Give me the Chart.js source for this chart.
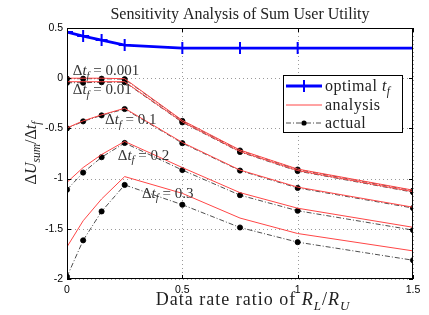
<!DOCTYPE html>
<html>
<head>
<meta charset="utf-8">
<script src="https://cdn.jsdelivr.net/npm/chart.js@4/dist/chart.umd.min.js"></script>
<style>
  html, body { margin: 0; padding: 0; background: #fff; }
  #wrap { width: 429px; height: 315px; }
</style>
</head>
<body>
<div id="wrap"><canvas id="chart" width="429" height="315"></canvas></div>
<script>
// data rate ratio R_L/R_U
const xRatio = [0, 0.07, 0.15, 0.25, 0.5, 0.75, 1, 1.5];
const xTicks = [0, 0.5, 1, 1.5];
const yTicks = [-2, -1.5, -1, -0.5, 0, 0.5];

const optimalTf = [0.46, 0.42, 0.38, 0.33, 0.30, 0.30, 0.30, 0.30];

// delta t_f = 0.001
const analysis001 = [0.0, 0.0, 0.0, -0.005, -0.42, -0.715, -0.905, -1.115];
const actual001 = [-0.005, -0.005, -0.005, -0.01, -0.425, -0.72, -0.91, -1.12];
// delta t_f = 0.01
const analysis01 = [-0.035, -0.035, -0.035, -0.035, -0.435, -0.73, -0.92, -1.13];
const actual01 = [-0.045, -0.045, -0.04, -0.04, -0.44, -0.735, -0.925, -1.135];
// delta t_f = 0.1
const analysis1 = [-0.495, -0.425, -0.365, -0.3, -0.64, -0.915, -1.085, -1.285];
const actual1 = [-0.5, -0.43, -0.37, -0.307, -0.647, -0.92, -1.093, -1.293];
// delta t_f = 0.2
const analysis2 = [-1.037, -0.89, -0.76, -0.63, -0.89, -1.14, -1.295, -1.485];
const actual2 = [-1.11, -0.94, -0.787, -0.645, -0.915, -1.165, -1.32, -1.513];
// delta t_f = 0.3
const analysis3 = [-1.68, -1.42, -1.203, -0.98, -1.147, -1.393, -1.547, -1.72];
const actual3 = [-1.977, -1.615, -1.327, -1.063, -1.26, -1.487, -1.633, -1.813];

const curveLabels = ['0.001', '0.01', '0.1', '0.2', '0.3'];
const labelAnchorX = [0.025, 0.025, 0.165, 0.22, 0.325];
const labelAnchorY = [0.03, -0.16, -0.46, -0.81, -1.19];

const RED = 'rgb(255,70,70)';
const BLUE = 'rgb(0,0,255)';
const SERIF = '"Liberation Serif", "DejaVu Serif", serif';
const SANS = '"Liberation Sans", Arial, sans-serif';

function pts(ys) {
    return xRatio.map((x, i) => ({ x: x, y: ys[i] }));
}

const analysisSets = [analysis001, analysis01, analysis1, analysis2, analysis3];
const actualSets = [actual001, actual01, actual1, actual2, actual3];

const datasets = [];
analysisSets.forEach(ys => {
    datasets.push({
        label: 'analysis',
        data: pts(ys),
        borderColor: RED,
        borderWidth: 1,
        pointRadius: 0,
        tension: 0
    });
});
actualSets.forEach(ys => {
    datasets.push({
        label: 'actual',
        data: pts(ys),
        borderColor: '#222',
        borderWidth: 0.8,
        borderDash: [5, 2, 1, 2],
        pointRadius: 2.6,
        pointBackgroundColor: '#000',
        pointBorderColor: '#000',
        tension: 0
    });
});
datasets.push({
    label: 'optimal',
    data: pts(optimalTf),
    borderColor: BLUE,
    borderWidth: 2.8,
    pointStyle: 'cross',
    pointRadius: 6,
    pointBorderWidth: 2,
    pointBorderColor: BLUE,
    tension: 0
});

// draws a run of text parts: {t, it, sub}
function richText(ctx, parts, x, y, size) {
    let cx = x;
    parts.forEach(p => {
        const s = p.sub ? size * 0.72 : size;
        ctx.font = (p.it ? 'italic ' : '') + s + 'px ' + SERIF;
        ctx.fillText(p.t, cx, p.sub ? y + size * 0.25 : y);
        cx += ctx.measureText(p.t).width;
    });
    return cx - x;
}
function richWidth(ctx, parts, size) {
    let w = 0;
    parts.forEach(p => {
        const s = p.sub ? size * 0.72 : size;
        ctx.font = (p.it ? 'italic ' : '') + s + 'px ' + SERIF;
        w += ctx.measureText(p.t).width;
    });
    return w;
}

// dotted grid under the data
const gridPlugin = {
    id: 'dotgrid',
    beforeDatasetsDraw(chart) {
        const ctx = chart.ctx;
        const a = chart.chartArea;
        const xs = chart.scales.x, ys = chart.scales.y;
        ctx.save();
        ctx.strokeStyle = '#9a9a9a';
        ctx.lineWidth = 1;
        ctx.setLineDash([1, 3]);
        ctx.beginPath();
        xTicks.forEach(v => {
            const px = Math.round(xs.getPixelForValue(v)) + 0.5;
            ctx.moveTo(px, a.top); ctx.lineTo(px, a.bottom);
        });
        yTicks.forEach(v => {
            const py = Math.round(ys.getPixelForValue(v)) + 0.5;
            ctx.moveTo(a.left, py); ctx.lineTo(a.right, py);
        });
        ctx.stroke();
        ctx.restore();
    }
};

const decorPlugin = {
    id: 'decor',
    afterDraw(chart) {
        const ctx = chart.ctx;
        const a = chart.chartArea;
        const xs = chart.scales.x, ys = chart.scales.y;
        ctx.save();

        // box + inward ticks
        ctx.strokeStyle = '#000';
        ctx.lineWidth = 1;
        ctx.setLineDash([]);
        ctx.strokeRect(a.left + 0.5, a.top + 0.5, a.right - a.left - 1, a.bottom - a.top - 1);
        ctx.beginPath();
        xTicks.forEach(v => {
            const px = Math.round(xs.getPixelForValue(v)) + 0.5;
            ctx.moveTo(px, a.bottom); ctx.lineTo(px, a.bottom - 4);
            ctx.moveTo(px, a.top); ctx.lineTo(px, a.top + 4);
        });
        yTicks.forEach(v => {
            const py = Math.round(ys.getPixelForValue(v)) + 0.5;
            ctx.moveTo(a.left, py); ctx.lineTo(a.left + 4, py);
            ctx.moveTo(a.right, py); ctx.lineTo(a.right - 4, py);
        });
        ctx.stroke();

        ctx.fillStyle = '#222';
        ctx.textBaseline = 'alphabetic';
        ctx.textAlign = 'left';

        // title
        ctx.font = '16px ' + SERIF;
        ctx.textAlign = 'center';
        ctx.fillText('Sensitivity Analysis of Sum User Utility', 240, 19);
        ctx.textAlign = 'left';

        // x axis label
        ctx.letterSpacing = '1px';
        const xl = [{ t: 'Data rate ratio of ' }, { t: 'R', it: true }, { t: 'L', it: true, sub: true },
                    { t: '/' }, { t: 'R', it: true }, { t: 'U', it: true, sub: true }];
        const xw = richWidth(ctx, xl, 18);
        richText(ctx, xl, 253 - xw / 2, 305, 18);
        ctx.letterSpacing = '0px';

        // y axis label (rotated)
        const yl = [{ t: '\u0394' }, { t: 'U', it: true }, { t: 'sum', it: true, sub: true },
                    { t: '/\u0394' }, { t: 't', it: true }, { t: 'f', it: true, sub: true }];
        ctx.save();
        ctx.translate(36, 153);
        ctx.rotate(-Math.PI / 2);
        const yw = richWidth(ctx, yl, 16);
        richText(ctx, yl, -yw / 2, 0, 16);
        ctx.restore();

        // curve annotations
        ctx.fillStyle = '#333';
        curveLabels.forEach((lab, i) => {
            const px = xs.getPixelForValue(labelAnchorX[i]);
            const py = ys.getPixelForValue(labelAnchorY[i]);
            richText(ctx, [{ t: '\u0394' }, { t: 't', it: true }, { t: 'f', it: true, sub: true },
                           { t: ' = ' + lab }], px, py, 15);
        });

        // legend
        const lx = 283, ly = 75, lw = 119, lh = 57;
        ctx.fillStyle = '#fff';
        ctx.fillRect(lx, ly, lw, lh);
        ctx.strokeStyle = '#000';
        ctx.lineWidth = 1;
        ctx.strokeRect(lx + 0.5, ly + 0.5, lw, lh);
        const rows = [ly + 11, ly + 30, ly + 48];
        // optimal
        ctx.strokeStyle = BLUE; ctx.lineWidth = 2.8;
        ctx.beginPath(); ctx.moveTo(lx + 3, rows[0]); ctx.lineTo(lx + 39, rows[0]); ctx.stroke();
        ctx.lineWidth = 2;
        ctx.beginPath(); ctx.moveTo(lx + 21, rows[0] - 6); ctx.lineTo(lx + 21, rows[0] + 6); ctx.stroke();
        // analysis
        ctx.strokeStyle = RED; ctx.lineWidth = 1;
        ctx.beginPath(); ctx.moveTo(lx + 3, rows[1]); ctx.lineTo(lx + 39, rows[1]); ctx.stroke();
        // actual
        ctx.strokeStyle = '#222'; ctx.lineWidth = 0.8; ctx.setLineDash([5, 2, 1, 2]);
        ctx.beginPath(); ctx.moveTo(lx + 3, rows[2]); ctx.lineTo(lx + 39, rows[2]); ctx.stroke();
        ctx.setLineDash([]);
        ctx.fillStyle = '#000';
        ctx.beginPath(); ctx.arc(lx + 21, rows[2], 2.6, 0, Math.PI * 2); ctx.fill();

        ctx.fillStyle = '#222';
        ctx.letterSpacing = '0.5px';
        richText(ctx, [{ t: 'optimal ' }, { t: 't', it: true }, { t: 'f', it: true, sub: true }], lx + 42, rows[0] + 5, 16);
        richText(ctx, [{ t: 'analysis' }], lx + 42, rows[1] + 5, 16);
        richText(ctx, [{ t: 'actual' }], lx + 42, rows[2] + 5, 16);
        ctx.letterSpacing = '0px';

        ctx.restore();
    }
};

new Chart(document.getElementById('chart'), {
    type: 'line',
    data: { datasets: datasets },
    options: {
        responsive: false,
        animation: false,
        layout: { padding: { top: 28, right: 16, left: 0, bottom: 0 } },
        plugins: {
            legend: { display: false },
            title: { display: false },
            tooltip: { enabled: false }
        },
        scales: {
            x: {
                type: 'linear',
                min: 0,
                max: 1.5,
                afterFit: s => { s.height = 36; },
                afterBuildTicks: s => { s.ticks = xTicks.map(v => ({ value: v })); },
                ticks: {
                    color: '#000',
                    font: { family: SANS, size: 10.5 },
                    padding: 5,
                    maxRotation: 0,
                    callback: v => String(v)
                },
                grid: { display: false, drawTicks: false },
                border: { display: false }
            },
            y: {
                min: -2,
                max: 0.5,
                afterFit: s => { s.width = 67; },
                afterBuildTicks: s => { s.ticks = yTicks.map(v => ({ value: v })); },
                ticks: {
                    color: '#000',
                    font: { family: SANS, size: 10.5 },
                    padding: 4,
                    callback: v => String(v)
                },
                grid: { display: false, drawTicks: false },
                border: { display: false }
            }
        }
    },
    plugins: [gridPlugin, decorPlugin]
});
</script>
</body>
</html>
